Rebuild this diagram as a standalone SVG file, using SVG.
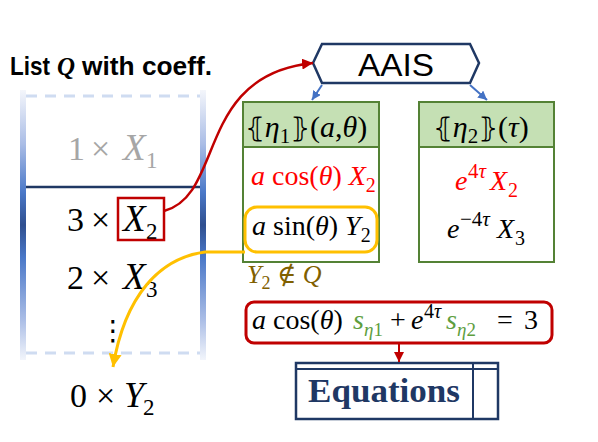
<svg xmlns="http://www.w3.org/2000/svg" width="598" height="442" viewBox="0 0 598 442">
<style>
.m{font-family:"Liberation Serif","DejaVu Serif",serif;}
.i{font-style:italic;}
.br{font-family:"DejaVu Sans",sans-serif;font-style:normal;}
.sans{font-family:"Liberation Sans",Arial,sans-serif;}
.hdr{fill:#c5e0b4;stroke:#548235;stroke-width:2;}
.box{fill:#ffffff;stroke:#548235;stroke-width:2;}
.red{fill:#ff0000;}
.grn{fill:#5e9e3e;}
</style>
<defs>
<linearGradient id="bar" x1="0" y1="90" x2="0" y2="360" gradientUnits="userSpaceOnUse">
<stop offset="0" stop-color="#f4f6fb"/>
<stop offset="0.2" stop-color="#aabde6"/>
<stop offset="0.38" stop-color="#4a78c8"/>
<stop offset="0.5" stop-color="#2f4f8f"/>
<stop offset="0.62" stop-color="#4a78c8"/>
<stop offset="0.85" stop-color="#aabde6"/>
<stop offset="1" stop-color="#f2f5fb"/>
</linearGradient>
<marker id="aRed" viewBox="0 0 10 10" refX="10" refY="5" markerWidth="11" markerHeight="11" markerUnits="userSpaceOnUse" orient="auto"><path d="M0,0 L10,5 L0,10 z" fill="#c00000"/></marker>
<marker id="aRed2" viewBox="0 0 10 10" refX="10" refY="5" markerWidth="10" markerHeight="11" markerUnits="userSpaceOnUse" orient="auto"><path d="M0,0 L10,5 L0,10 z" fill="#c00000"/></marker>
<marker id="aBlue" viewBox="0 0 10 10" refX="10" refY="5" markerWidth="9" markerHeight="9" markerUnits="userSpaceOnUse" orient="auto"><path d="M0,0 L10,5 L0,10 z" fill="#4472c4"/></marker>
<marker id="aYel" viewBox="0 0 10 10" refX="10" refY="5" markerWidth="13" markerHeight="13" markerUnits="userSpaceOnUse" orient="auto"><path d="M0,0 L10,5 L0,10 z" fill="#ffc000"/></marker>
</defs>
<rect width="598" height="442" fill="#ffffff"/>

<g id="title" font-size="25" font-weight="bold" fill="#000">
<text class="sans" x="10" y="75" textLength="40" lengthAdjust="spacingAndGlyphs">List</text>
<text class="m i" x="57" y="75">Q</text>
<text class="sans" x="82" y="75" textLength="130" lengthAdjust="spacingAndGlyphs">with coeff.</text>
</g>

<g id="listQ">
<rect x="20" y="90" width="6" height="270" fill="url(#bar)"/>
<rect x="200" y="90" width="6" height="270" fill="url(#bar)"/>
<line x1="26" y1="96" x2="200" y2="96" stroke="#cfdcf1" stroke-width="3" stroke-dasharray="11 8"/>
<line x1="26" y1="353" x2="200" y2="353" stroke="#cfdcf1" stroke-width="3" stroke-dasharray="11 8"/>
<line x1="26" y1="187" x2="200" y2="187" stroke="#203864" stroke-width="2.5"/>
<text class="m" font-size="34" y="160" fill="#a6a6a6"><tspan x="68">1</tspan><tspan x="91">×</tspan><tspan x="123" class="i" font-size="37">X</tspan><tspan x="146" y="168" font-size="23">1</tspan></text>
<text class="m" font-size="34" y="231" fill="#000"><tspan x="67">3</tspan><tspan x="91">×</tspan><tspan x="123" class="i" font-size="37">X</tspan><tspan x="146" y="239" font-size="23">2</tspan></text>
<rect x="118" y="198" width="46" height="42" fill="none" stroke="#c00000" stroke-width="2.5"/>
<text class="m" font-size="34" y="289" fill="#000"><tspan x="67">2</tspan><tspan x="91">×</tspan><tspan x="123" class="i" font-size="37">X</tspan><tspan x="146" y="297" font-size="23">3</tspan></text>
<text x="113" y="340" font-size="28" text-anchor="middle" font-family="DejaVu Sans,sans-serif" fill="#000">⋮</text>
</g>

<g id="zeroY2">
<text class="m" font-size="34" y="407" fill="#000"><tspan x="70">0</tspan><tspan x="96">×</tspan><tspan x="124" class="i" font-size="36">Y</tspan><tspan x="143" y="415" font-size="23">2</tspan></text>
</g>

<g id="aais">
<polygon points="313,63 322,44 470,44 479,63 470,83 322,83" fill="#ffffff" stroke="#1f3864" stroke-width="2.5"/>
<text x="396" y="76" font-size="32" text-anchor="middle" class="sans" fill="#000" textLength="76" lengthAdjust="spacingAndGlyphs">AAIS</text>
</g>

<g id="eta1">
<rect x="243" y="102" width="136" height="45" class="hdr"/>
<rect x="243" y="147" width="136" height="115" class="box"/>
<text class="m" x="245" y="137" font-size="30" fill="#000"><tspan class="br" font-size="27">⦃</tspan><tspan class="i">η</tspan><tspan dy="6" font-size="21">1</tspan><tspan dy="-6" class="br" font-size="27">⦄</tspan><tspan>(</tspan><tspan class="i">a</tspan><tspan>,</tspan><tspan class="i">θ</tspan><tspan>)</tspan></text>
<text class="m red" font-size="28" y="185"><tspan x="251" class="i">a</tspan><tspan> cos(</tspan><tspan class="i">θ</tspan><tspan>) </tspan><tspan class="i">X</tspan><tspan dy="7" font-size="20">2</tspan></text>
<rect x="245" y="207" width="132" height="45" rx="12" fill="none" stroke="#ffc000" stroke-width="3"/>
<text class="m" font-size="28" y="235" fill="#000"><tspan x="252" class="i">a</tspan><tspan> sin(</tspan><tspan class="i">θ</tspan><tspan>) </tspan><tspan class="i">Y</tspan><tspan dy="7" font-size="20">2</tspan></text>
</g>

<g id="eta2">
<rect x="419" y="102" width="135" height="45" class="hdr"/>
<rect x="419" y="147" width="135" height="115" class="box"/>
<text class="m" x="433" y="137" font-size="30" fill="#000"><tspan class="br" font-size="27">⦃</tspan><tspan class="i">η</tspan><tspan dy="6" font-size="21">2</tspan><tspan dy="-6" class="br" font-size="27">⦄</tspan><tspan>(</tspan><tspan class="i">τ</tspan><tspan>)</tspan></text>
<text class="m red" font-size="28" y="190"><tspan x="455" class="i">e</tspan><tspan x="468" y="178" font-size="21">4</tspan><tspan class="i" font-size="21">τ</tspan><tspan x="490" y="190" class="i">X</tspan><tspan x="508" y="197" font-size="20">2</tspan></text>
<text class="m" font-size="28" y="238" fill="#000"><tspan x="447" class="i">e</tspan><tspan x="460" y="226" font-size="21">−4</tspan><tspan class="i" font-size="21">τ</tspan><tspan x="497" y="238" class="i">X</tspan><tspan x="515" y="245" font-size="20">3</tspan></text>
</g>

<g id="notInQ">
<text class="m" font-size="26" y="283" fill="#806000"><tspan x="247" class="i">Y</tspan><tspan dy="6" font-size="18">2</tspan><tspan dy="-6"> ∉ </tspan><tspan class="i">Q</tspan></text>
</g>

<g id="equation">
<rect x="246" y="302" width="306" height="41" rx="8" fill="#ffffff" stroke="#c00000" stroke-width="3"/>
<text class="m" font-size="28" y="329" fill="#000"><tspan x="252" class="i">a</tspan><tspan> cos(</tspan><tspan class="i">θ</tspan><tspan>)</tspan><tspan x="353" class="i grn">s</tspan><tspan x="364" y="336" font-size="19" class="i grn">η</tspan><tspan font-size="19" class="grn">1</tspan><tspan x="390" y="329">+</tspan><tspan x="411" class="i">e</tspan><tspan x="424" y="318" font-size="20">4</tspan><tspan class="i" font-size="20">τ</tspan><tspan x="446" y="329" class="i grn">s</tspan><tspan x="457" y="336" font-size="19" class="i grn">η</tspan><tspan font-size="19" class="grn">2</tspan><tspan x="497" y="329">=</tspan><tspan x="524">3</tspan></text>
</g>

<g id="equations">
<rect x="296" y="363" width="202" height="56" fill="#ffffff" stroke="#1f3864" stroke-width="2.5"/>
<line x1="296" y1="369" x2="498" y2="369" stroke="#1f3864" stroke-width="2"/>
<line x1="473" y1="363" x2="473" y2="419" stroke="#1f3864" stroke-width="2"/>
<text class="m" x="308" y="402" font-size="34" font-weight="bold" fill="#1f3864" textLength="152" lengthAdjust="spacingAndGlyphs">Equations</text>
</g>

<g id="connectors" fill="none">
<path d="M164,211 C225,195 195,75 313,63" stroke="#c00000" stroke-width="2.5" marker-end="url(#aRed)"/>
<path d="M245,252 L205,252 C160,258 125,295 113,367" stroke="#ffc000" stroke-width="3" marker-end="url(#aYel)"/>
<line x1="322" y1="85" x2="312" y2="100" stroke="#4472c4" stroke-width="2" marker-end="url(#aBlue)"/>
<line x1="470" y1="85" x2="487" y2="100" stroke="#4472c4" stroke-width="2" marker-end="url(#aBlue)"/>
<line x1="399" y1="343" x2="399" y2="362" stroke="#c00000" stroke-width="2" marker-end="url(#aRed2)"/>
</g>
</svg>
